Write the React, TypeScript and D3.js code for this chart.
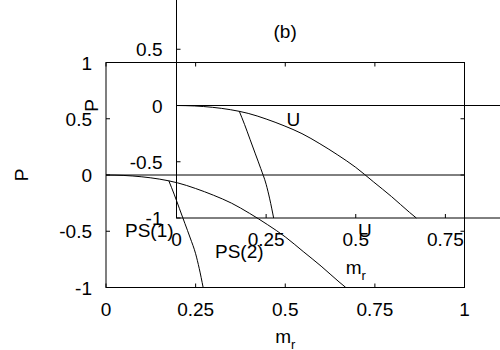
import * as d3 from "d3";

// ── Data ─────────────────────────────────────────────
const ticksX = [0, 0.25, 0.5, 0.75, 1];
const ticksY = [-1, -0.5, 0, 0.5, 1];

const zeroM = [0, 1];
const zeroP = [0, 0];

const uM = [0, 0.05, 0.1, 0.15, 0.2, 0.25, 0.3, 0.35, 0.4, 0.45, 0.5, 0.55, 0.6, 0.65, 0.669];
const uP = [0, -0.004, -0.016, -0.037, -0.07, -0.12, -0.18, -0.25, -0.34, -0.44, -0.55, -0.68, -0.81, -0.95, -1];

const psM = [0.175, 0.19, 0.205, 0.22, 0.235, 0.25, 0.26, 0.271];
const psP = [-0.05, -0.17, -0.3, -0.43, -0.56, -0.7, -0.83, -1];

// labels per panel: text, m, P
const labelsA = [
  { text: "PS(1)", m: 0.053, p: -0.55 },
  { text: "PS(2)", m: 0.304, p: -0.738 },
  { text: "U", m: 0.703, p: -0.551 },
];
const labelsB = [
  { text: "U", m: 0.307, p: -0.182 },
  { text: "(b)", m: 0.303, p: 0.6 },
];

const font = "'Liberation Sans', Arial, Helvetica, sans-serif";
const fs = 19;
const tick = 4;

type Lab = { text: string; m: number; p: number };

function Panel({ x0, x1, y0, y1, labels }: { x0: number; x1: number; y0: number; y1: number; labels: Lab[] }) {
  const x = d3.scaleLinear().domain([0, 1]).range([x0, x1]);
  const y = d3.scaleLinear().domain([-1, 1]).range([y1, y0]);

  const line = d3
    .line<[number, number]>()
    .x((d) => x(d[0]))
    .y((d) => y(d[1]));
  const smooth = d3
    .line<[number, number]>()
    .x((d) => x(d[0]))
    .y((d) => y(d[1]))
    .curve(d3.curveMonotoneX);

  const zip = (a: number[], b: number[]) => a.map((v, i) => [v, b[i]] as [number, number]);

  return (
    <g fontFamily={font} fontSize={fs} fill="#000">
      {/* frame */}
      <rect x={x0} y={y0} width={x1 - x0} height={y1 - y0} fill="none" stroke="#000" strokeWidth={1} />

      {/* ticks */}
      {ticksX.map((t) => (
        <g key={"x" + t}>
          <line x1={x(t)} x2={x(t)} y1={y1} y2={y1 - tick} stroke="#000" />
          <line x1={x(t)} x2={x(t)} y1={y0} y2={y0 + tick} stroke="#000" />
          <text x={x(t)} y={y1 + 28} textAnchor="middle">{String(t)}</text>
        </g>
      ))}
      {ticksY.map((t) => (
        <g key={"y" + t}>
          <line x1={x0} x2={x0 + tick} y1={y(t)} y2={y(t)} stroke="#000" />
          <line x1={x1} x2={x1 - tick} y1={y(t)} y2={y(t)} stroke="#000" />
          <text x={x0 - 14} y={y(t) + 7} textAnchor="end">{String(t)}</text>
        </g>
      ))}

      {/* axis titles */}
      <text x={x(0.5)} y={y1 + 55.5} textAnchor="middle">
        m<tspan fontSize={13} dy={6}>r</tspan>
      </text>
      <text transform={`translate(${x0 - 78.5},${y(0)}) rotate(-90)`} textAnchor="middle">P</text>

      {/* curves */}
      <path d={line(zip(zeroM, zeroP)) || ""} fill="none" stroke="#000" strokeWidth={1} />
      <path d={smooth(zip(uM, uP)) || ""} fill="none" stroke="#000" strokeWidth={1} />
      <path d={smooth(zip(psM, psP)) || ""} fill="none" stroke="#000" strokeWidth={1} />

      {labels.map((l, i) => (
        <text key={i} x={x(l.m)} y={y(l.p)} textAnchor={l.text === "(b)" ? "middle" : "start"}>
          {l.text}
        </text>
      ))}
    </g>
  );
}

export default function App() {
  return (
    <svg
      width={500}
      height={350}
      viewBox="0 0 500 350"
      style={{ position: "absolute", left: 0, top: 0, background: "#fff" }}
    >
      <Panel x0={106} x1={464.5} y0={62.5} y1={287.5} labels={labelsA} />
      <Panel x0={176.5} x1={535} y0={-7} y1={218} labels={labelsB} />
    </svg>
  );
}
